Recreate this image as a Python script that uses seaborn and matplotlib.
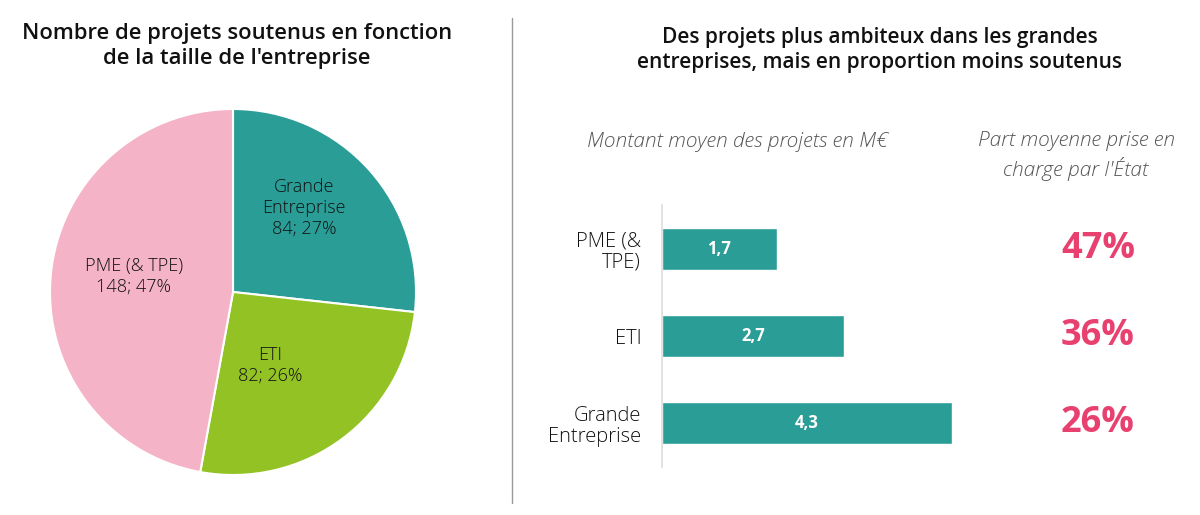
import numpy as np
import pandas as pd
import matplotlib
matplotlib.use("Agg")
import matplotlib.pyplot as plt
import matplotlib.transforms as mtransforms
import seaborn as sns

# ---- data ----
pie_labels = ["Grande\nEntreprise", "ETI", "PME (& TPE)"]
pie_counts = [84, 82, 148]
pie_pcts = [27, 26, 47]

bar_categories = ["PME (&\nTPE)", "ETI", "Grande\nEntreprise"]
bar_values = [1.7, 2.7, 4.3]
bar_value_labels = ["1,7", "2,7", "4,3"]
state_share = ["47%", "36%", "26%"]

# ---- style ----
sns.set_theme(style="white")
plt.rcParams['font.family'] = ['Open Sans', 'DejaVu Sans']

teal = "#2a9d96"
green = "#93c225"
pink = "#f4b3c7"
red = "#e8416f"
pie_colors = [teal, green, pink]

fig = plt.figure(figsize=(12, 5.15), dpi=100)
W, H = 1200, 515

# ---- pie ----
cx, cy, r = 233, 292, 183
axp = fig.add_axes([(cx - r) / W, (H - cy - r) / H, 2 * r / W, 2 * r / H])
wedges, _ = axp.pie(pie_counts, colors=pie_colors, startangle=90, counterclock=False,
                    wedgeprops=dict(edgecolor="white", linewidth=1.5), radius=1)
axp.set_xlim(-1, 1)
axp.set_ylim(-1, 1)
axp.set_aspect("equal")
axp.axis("off")
label_dist = [0.60, 0.45, 0.55]
label_shift = [8, -10, -4]
for w, lab, n, p, d, s in zip(wedges, pie_labels, pie_counts, pie_pcts, label_dist, label_shift):
    ang = np.deg2rad((w.theta1 + w.theta2) / 2 + s)
    axp.text(d * np.cos(ang), d * np.sin(ang), f"{lab}\n{n}; {p}%", ha="center", va="center",
             fontsize=13, fontweight="light", color="#111111", linespacing=1.2)

fig.text(237 / W, 1 - 46 / H, "Nombre de projets soutenus en fonction\nde la taille de l'entreprise",
         ha="center", va="center", fontsize=15.8, fontweight="semibold", color="#111111", linespacing=1.3)

# divider
fig.add_artist(plt.Line2D([512 / W, 512 / W], [1 - 18 / H, 1 - 503 / H], color="#999999", lw=1))

# ---- bar chart ----
ax_left, ax_w = 662, 300
ax_top, ax_bot = 205, 467
axb = fig.add_axes([ax_left / W, (H - ax_bot) / H, ax_w / W, (ax_bot - ax_top) / H])
df = pd.DataFrame({"cat": bar_categories, "val": bar_values})
sns.barplot(data=df, x="val", y="cat", orient="h", color=teal, saturation=1, width=0.48, ax=axb)
axb.set_xlim(0, ax_w / 67.4)
axb.set_ylim(2.5, -0.5)
axb.set_xlabel("")
axb.set_ylabel("")
axb.set_xticks([])
for sp in ["top", "right", "bottom"]:
    axb.spines[sp].set_visible(False)
axb.spines["left"].set_color("#dddddd")
axb.spines["left"].set_linewidth(1.2)
axb.tick_params(axis="y", length=0, pad=15, labelsize=14.5, labelcolor="#111111")
for lbl in axb.get_yticklabels():
    lbl.set_horizontalalignment("right")
    lbl.set_multialignment("right")
    lbl.set_linespacing(1.1)
    lbl.set_fontweight("light")

for i, (v, t) in enumerate(zip(bar_values, bar_value_labels)):
    axb.text(v / 2, i, t, ha="center", va="center", color="white", fontsize=12, fontweight="bold")

trans = mtransforms.blended_transform_factory(fig.transFigure, axb.transData)
for i, s in enumerate(state_share):
    axb.text(1098 / W, i, s, transform=trans, ha="center", va="center", color=red,
             fontsize=26, fontweight="bold", clip_on=False)

fig.text(880 / W, 1 - 50 / H, "Des projets plus ambiteux dans les grandes\nentreprises, mais en proportion moins soutenus",
         ha="center", va="center", fontsize=15, fontweight="semibold", color="#111111", linespacing=1.3)
fig.text(737 / W, 1 - 142 / H, "Montant moyen des projets en M€", ha="center", va="center",
         fontsize=15, style="italic", fontweight="light", color="#555555")
fig.text(1076 / W, 1 - 156 / H, "Part moyenne prise en\ncharge par l'État", ha="center", va="center",
         fontsize=15, style="italic", fontweight="light", color="#555555", linespacing=1.3)

fig.savefig("out.png", dpi=100)
